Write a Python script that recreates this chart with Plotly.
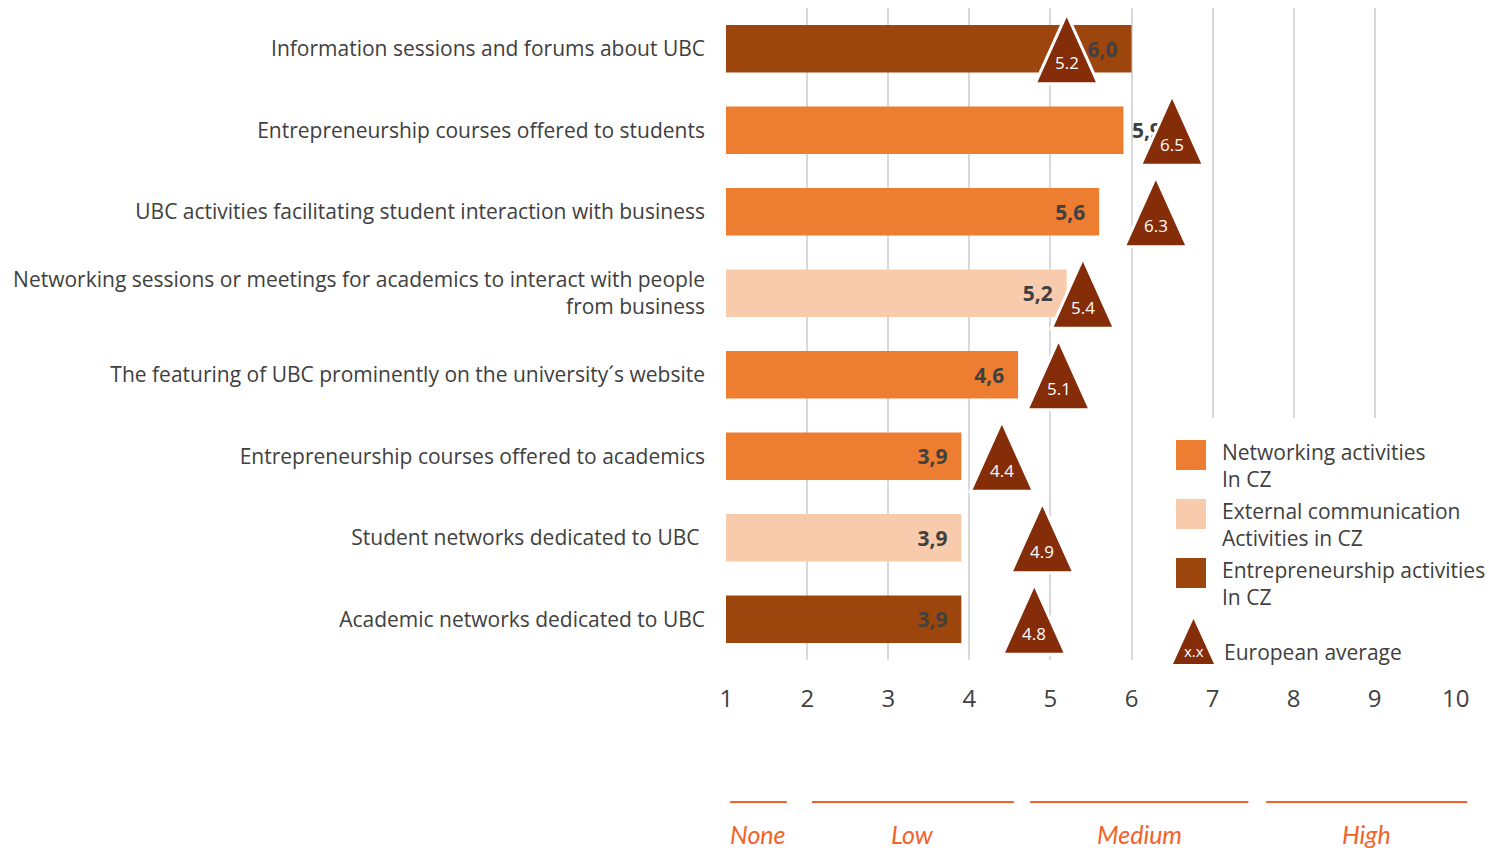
import plotly.graph_objects as go

# --- data -------------------------------------------------------------
categories = [
    "Information sessions and forums about UBC",
    "Entrepreneurship courses offered to students",
    "UBC activities facilitating student interaction with business",
    "Networking sessions or meetings for academics to interact with people<br>from business",
    "The featuring of UBC prominently on the university´s website",
    "Entrepreneurship courses offered to academics",
    "Student networks dedicated to UBC ",
    "Academic networks dedicated to UBC",
]
cz_values = [6.0, 5.9, 5.6, 5.2, 4.6, 3.9, 3.9, 3.9]
cz_groups = ["Entrepreneurship", "Networking", "Networking", "External",
             "Networking", "Networking", "External", "Entrepreneurship"]
eu_average = [5.2, 6.5, 6.3, 5.4, 5.1, 4.4, 4.9, 4.8]

x_ticks = list(range(1, 11))

scale_labels = ["None", "Low", "Medium", "High"]
scale_start = [1.05, 2.06, 4.75, 7.66]
scale_end = [1.75, 4.55, 7.44, 10.14]

legend_names = ["Networking activities<br>In CZ",
                "External communication<br>Activities in CZ",
                "Entrepreneurship activities<br>In CZ"]
legend_groups = ["Networking", "External", "Entrepreneurship"]

# --- style ------------------------------------------------------------
group_colors = {"Networking": "#ED7D31", "External": "#F8CBAD",
                "Entrepreneurship": "#9C460E"}
triangle_color = "#852C09"
text_color = "#404040"
scale_color = "#F4622A"
FONT = "Open Sans"
PAD_IN = "\u00a0\u00a0"
PAD_OUT = "\u00a0"

W, H = 1489, 848
M_L, M_R, M_T, M_B = 726, 33, 8, 188
PW, PH = W - M_L - M_R, H - M_T - M_B


def px_x(px):
    return (px - M_L) / PW


def px_y(py):
    return (H - M_B - py) / PH


def val_x(v):
    return (v - x_ticks[0]) / (x_ticks[-1] - x_ticks[0])


fig = go.Figure()

idx = list(range(len(categories)))
positions = ["inside", "outside", "inside", "inside",
             "inside", "inside", "inside", "inside"]
labels = []
for v, pos in zip(cz_values, positions):
    s = f"{v:.1f}".replace(".", ",")
    labels.append(s + PAD_IN if pos == "inside" else PAD_OUT + s)

fig.add_trace(go.Bar(
    x=cz_values,
    y=idx,
    orientation="h",
    width=0.58,
    marker=dict(color=[group_colors[g] for g in cz_groups], line=dict(width=0)),
    text=labels,
    textposition=positions,
    insidetextanchor="end",
    textfont=dict(family=FONT, size=21, color=text_color, weight="bold"),
    constraintext="none",
    cliponaxis=False,
    showlegend=False,
    hoverinfo="skip",
))

shapes = []
annotations = []

# European average triangles
HALF_W, HALF_H = 0.39, 0.43
for i, v in enumerate(eu_average):
    shapes.append(dict(
        type="path", xref="x", yref="y", layer="above",
        path=f"M {v - HALF_W},{i + HALF_H} L {v},{i - HALF_H} L {v + HALF_W},{i + HALF_H} Z",
        fillcolor=triangle_color, line=dict(color="white", width=3),
    ))
    annotations.append(dict(
        x=v, y=i + 0.17, xref="x", yref="y", text=f"{v:.1f}",
        showarrow=False, font=dict(family=FONT, size=17, color="white"),
    ))

# legend panel
shapes.append(dict(type="rect", xref="paper", yref="paper", layer="above",
                   x0=px_x(1160), x1=px_x(1489), y0=px_y(668), y1=px_y(418),
                   fillcolor="white", line=dict(width=0)))
for k, (name, grp) in enumerate(zip(legend_names, legend_groups)):
    top = 440 + k * 59
    shapes.append(dict(type="rect", xref="paper", yref="paper", layer="above",
                       x0=px_x(1176), x1=px_x(1206), y0=px_y(top + 30), y1=px_y(top),
                       fillcolor=group_colors[grp], line=dict(width=0)))
    annotations.append(dict(
        x=px_x(1220), y=px_y(top - 4), xref="paper", yref="paper",
        xanchor="left", yanchor="top", align="left", text=name, showarrow=False,
        font=dict(family=FONT, size=21, color=text_color),
    ))
shapes.append(dict(type="path", xref="paper", yref="paper", layer="above",
                   path=f"M {px_x(1173)},{px_y(664)} L {px_x(1193.5)},{px_y(619)} "
                        f"L {px_x(1214)},{px_y(664)} Z",
                   fillcolor=triangle_color, line=dict(width=0)))
annotations.append(dict(x=px_x(1193.5), y=px_y(651), xref="paper", yref="paper",
                        xanchor="center", yanchor="middle",
                        text="x.x", showarrow=False,
                        font=dict(family=FONT, size=15, color="white")))
annotations.append(dict(x=px_x(1222), y=px_y(652), xref="paper", yref="paper",
                        xanchor="left", yanchor="middle",
                        text="European average", showarrow=False,
                        font=dict(family=FONT, size=21, color=text_color)))

# rating scale below the axis
for lab, s, e in zip(scale_labels, scale_start, scale_end):
    shapes.append(dict(type="line", xref="paper", yref="paper",
                       x0=val_x(s), x1=val_x(e), y0=px_y(802), y1=px_y(802),
                       line=dict(color=scale_color, width=2)))
    annotations.append(dict(x=val_x((s + e) / 2), y=px_y(834), xref="paper",
                            yref="paper", xanchor="center", yanchor="middle",
                            text=f"<i>{lab}</i>", showarrow=False,
                            font=dict(family="Lato", size=25, color=scale_color)))

fig.update_layout(
    width=W, height=H,
    margin=dict(l=M_L, r=M_R, t=M_T, b=M_B),
    paper_bgcolor="white", plot_bgcolor="white",
    shapes=shapes, annotations=annotations,
    bargap=0.42,
)
fig.update_xaxes(
    range=[x_ticks[0] - 0.004, x_ticks[-1] + 0.004], tickvals=x_ticks,
    showgrid=True, gridcolor="#D9D9D9", gridwidth=2,
    zeroline=False, showline=False, ticks="",
    ticklabelstandoff=22,
    tickfont=dict(family=FONT, size=24, color=text_color),
)
fig.update_yaxes(
    range=[len(categories) - 0.5, -0.5], tickvals=idx, ticktext=categories,
    showgrid=False, zeroline=False, showline=False, ticks="",
    ticklabelstandoff=20,
    tickfont=dict(family=FONT, size=21, color=text_color),
)

fig.write_html("out.html")
